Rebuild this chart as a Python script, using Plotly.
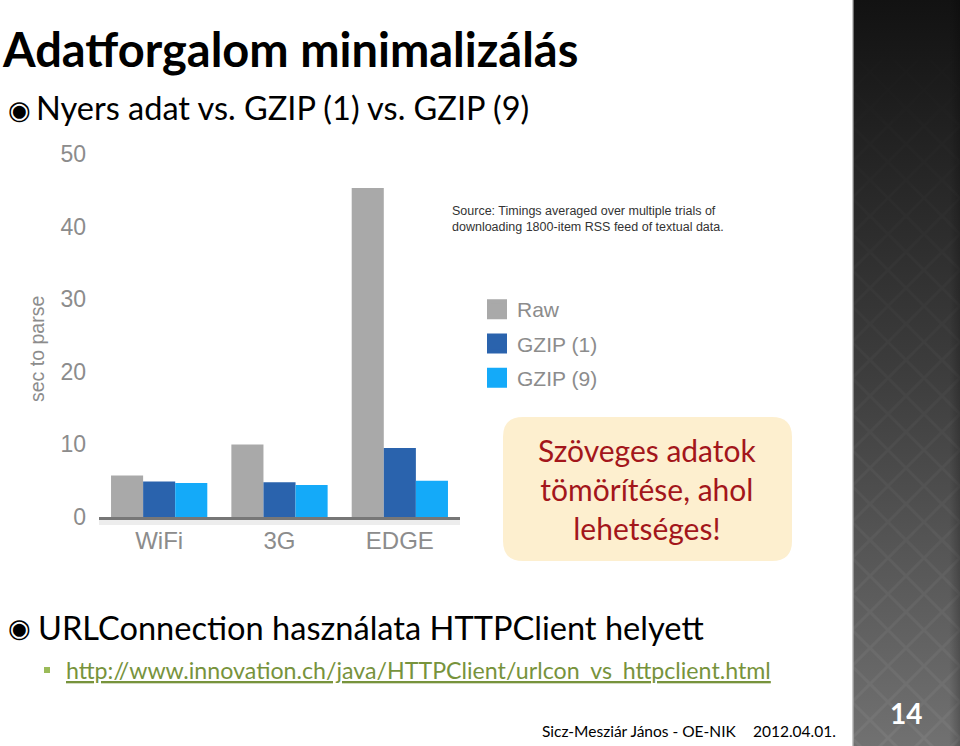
import base64
import plotly.graph_objects as go

# ---------------- data ----------------
categories = ["WiFi", "3G", "EDGE"]
raw_sec = [5.7, 10.0, 45.3]
gzip1_sec = [4.9, 4.8, 9.5]
gzip9_sec = [4.7, 4.4, 5.0]
series_names = ["Raw", "GZIP (1)", "GZIP (9)"]
series_colors = ["#A9A9A9", "#2A63AD", "#14AAF9"]
y_tick_vals = [0, 10, 20, 30, 40, 50]
y_axis_title = "sec to parse"

W, H = 960, 746


def px(x):
    return x / W


def py(y):
    return 1 - y / H


GREY = "#8c8c8c"
SANS = "Liberation Sans, Arial, sans-serif"
CAL = "Lato, Carlito, Calibri, sans-serif"

fig = go.Figure()
for name, vals, col in zip(series_names, [raw_sec, gzip1_sec, gzip9_sec], series_colors):
    fig.add_trace(go.Bar(x=categories, y=vals, name=name,
                         marker=dict(color=col, line=dict(width=0)),
                         showlegend=False, hoverinfo="x+y+name"))
for name, col in zip(series_names, series_colors):
    fig.add_trace(go.Scatter(x=[None], y=[None], mode="markers", name=name,
                             legendgroup=name,
                             marker=dict(symbol="square", size=16, color=col,
                                         line=dict(width=4, color=col))))

# ---------------- side panel (decorative svg) ----------------
svg = '''<svg xmlns="http://www.w3.org/2000/svg" width="108" height="746" viewBox="0 0 108 746">
<defs>
<linearGradient id="g" x1="0" y1="0" x2="0" y2="1">
<stop offset="0" stop-color="#121212"/>
<stop offset="0.5" stop-color="#3d3d3d"/>
<stop offset="1" stop-color="#717171"/>
</linearGradient>
<linearGradient id="h" x1="0" y1="0" x2="1" y2="0">
<stop offset="0.9" stop-color="#000" stop-opacity="0"/>
<stop offset="1" stop-color="#000" stop-opacity="0.22"/>
</linearGradient>
<linearGradient id="f" x1="0" y1="0" x2="0" y2="1">
<stop offset="0" stop-color="#fff" stop-opacity="0"/>
<stop offset="1" stop-color="#fff" stop-opacity="1"/>
</linearGradient>
<pattern id="p" width="36" height="36" patternUnits="userSpaceOnUse">
<path d="M18 0 L36 18 L18 36 L0 18 Z" fill="none" stroke="#ffffff" stroke-width="3"/>
</pattern>
<mask id="m"><rect width="108" height="746" fill="url(#f)"/></mask>
</defs>
<rect width="108" height="746" fill="url(#g)"/>
<rect width="108" height="746" fill="url(#p)" opacity="0.05" mask="url(#m)"/>
<rect width="108" height="746" fill="url(#h)"/>
<rect x="0" y="0" width="1.5" height="746" fill="#c8c8c8"/>
</svg>'''
svg_uri = "data:image/svg+xml;base64," + base64.b64encode(svg.encode()).decode()

# rounded callout box (paper coords)
bx0, bx1, by0, by1, r = 503, 792, 417, 561, 20
rx, ry = r / W, r / H
X0, X1, Y0, Y1 = px(bx0), px(bx1), py(by0), py(by1)
path = (f"M{X0+rx},{Y0} L{X1-rx},{Y0} Q{X1},{Y0} {X1},{Y0-ry} "
        f"L{X1},{Y1+ry} Q{X1},{Y1} {X1-rx},{Y1} L{X0+rx},{Y1} "
        f"Q{X0},{Y1} {X0},{Y1+ry} L{X0},{Y0-ry} Q{X0},{Y0} {X0+rx},{Y0} Z")

shapes = [
    dict(type="path", xref="paper", yref="paper", path=path,
         fillcolor="#FDEFCF", line=dict(width=0), layer="below"),
    dict(type="rect", xref="paper", yref="paper", x0=px(44), x1=px(50),
         y0=py(667), y1=py(673), fillcolor="#9BBB59", line=dict(width=0)),
    # soft shadow under the x axis line
    dict(type="rect", xref="paper", yref="paper", x0=px(99), x1=px(460),
         y0=py(525), y1=py(519), fillcolor="#ededed", line=dict(width=0), layer="below"),
]

ann = []


def text(t, x, y, size, color="#000", family=CAL, xanchor="left", yanchor="middle", **kw):
    ann.append(dict(text=t, x=px(x), y=py(y), xref="paper", yref="paper",
                    xanchor=xanchor, yanchor=yanchor, showarrow=False,
                    font=dict(size=size, color=color, family=family, **kw)))


text("<b>Adatforgalom minimalizálás</b>", 0, 49, 47)
text("◉", 6, 110, 26, family="DejaVu Sans")
text("Nyers adat vs. GZIP (1) vs. GZIP (9)", 34, 107.5, 32.5)
text("Source: Timings averaged over multiple trials of<br>downloading 1800-item RSS feed of textual data.",
     450, 219, 12.5, color="#333333", family=SANS)
ann[-1]["align"] = "left"
text(y_axis_title, 37, 349, 19.5, color=GREY, family=SANS, xanchor="center")
ann[-1]["textangle"] = -90
text("Szöveges adatok<br>tömörítése, ahol<br>lehetséges!", 647, 489, 30,
     color="#A3161B", xanchor="center")
ann[-1]["align"] = "center"
text("◉", 6, 628, 26, family="DejaVu Sans")
text("URLConnection használata HTTPClient helyett", 36, 627, 32.6)
text("http://www.innovation.ch/java/HTTPClient/urlcon_vs_httpclient.html", 64, 670, 23.2,
     color="#77933C", lineposition="under")
text("Sicz-Mesziár János - OE-NIK", 540, 731, 15.5)
text("2012.04.01.", 751, 731, 15.5)
text("<b>14</b>", 906, 713, 28, color="#ffffff", xanchor="center")

fig.update_layout(
    width=W, height=H, margin=dict(l=0, r=0, t=0, b=0, autoexpand=False),
    paper_bgcolor="#ffffff", plot_bgcolor="rgba(0,0,0,0)",
    barmode="group", bargap=0.2, bargroupgap=0,
    showlegend=True,
    legend=dict(x=px(477), y=py(289), xanchor="left", yanchor="top",
                font=dict(size=21, color=GREY, family=SANS),
                traceorder="grouped", tracegroupgap=4,
                bgcolor="rgba(0,0,0,0)", borderwidth=0),
    xaxis=dict(domain=[px(99), px(460)], range=[-0.5, 2.5], showline=True,
               linecolor="#777777", linewidth=3, showgrid=False, zeroline=False,
               ticks="", tickfont=dict(size=24, color=GREY, family=SANS),
               ticklabelstandoff=0, fixedrange=True, automargin=False),
    yaxis=dict(domain=[py(517), py(154)], range=[0, 50], tickvals=y_tick_vals,
               showgrid=False, zeroline=False, showline=False, ticks="",
               tickfont=dict(size=23, color=GREY, family=SANS),
               ticklabelstandoff=12, fixedrange=True, automargin=False),
    shapes=shapes,
    annotations=ann,
    images=[dict(source=svg_uri, xref="paper", yref="paper", x=px(852), y=1,
                 sizex=px(108), sizey=1, sizing="stretch", xanchor="left",
                 yanchor="top", layer="below")],
)

fig.write_html("out.html", config={"displayModeBar": False})
